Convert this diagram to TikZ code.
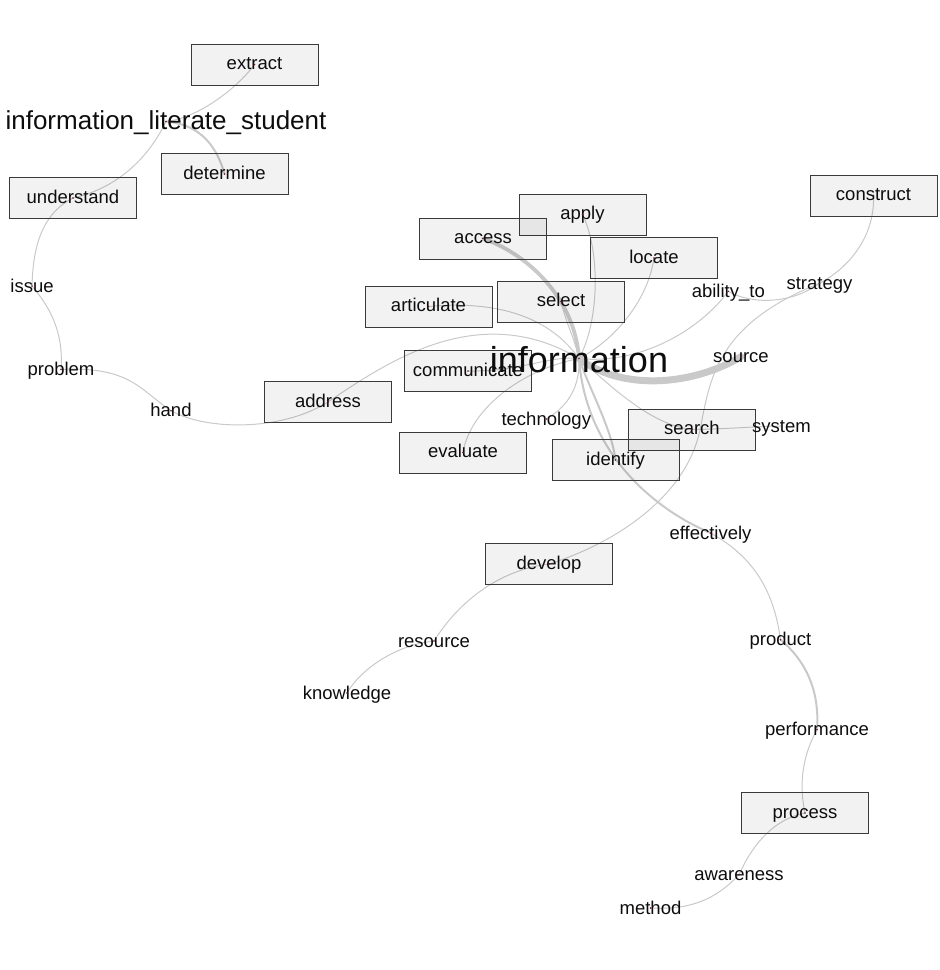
\documentclass[tikz,border=0pt]{standalone}
\usepackage{fontspec}
\setmainfont{Liberation Sans}
\pgfdeclarelayer{bg}
\pgfsetlayers{bg,main}
\definecolor{edgecol}{HTML}{C9C9C9}
\definecolor{boxline}{HTML}{3A3A3A}
\definecolor{dotcol}{HTML}{6B1A1A}
\begin{document}
\begin{tikzpicture}[x=1pt,y=-1pt,
  word/.style={font=\fontsize{18.5}{20}\selectfont, inner sep=0pt, text height=12pt, text depth=0pt, text=black!95},
  box/.style={word, draw=boxline, line width=1pt, fill=black, fill opacity=0.05, text opacity=1, draw opacity=1,
    minimum width=127pt, minimum height=41pt, text height=11pt, text depth=1pt},
  bigword/.style={inner sep=0pt, text=black!95, font=\fontsize{36}{40}\selectfont, text height=27pt, text depth=0pt},
  midword/.style={inner sep=0pt, text=black!95, font=\fontsize{26}{30}\selectfont, text height=15pt, text depth=0pt},
  thinedge/.style={draw=edgecol, line width=1pt, line cap=round},
  medge/.style={draw=edgecol, line width=2pt, line cap=round},
  thickedge/.style={draw=edgecol, line width=3.8pt, line cap=round},
  vthickedge/.style={draw=edgecol, line width=7pt, line cap=round},
  centerdot/.style={fill=dotcol, draw=none}
]
\useasboundingbox (0,0) rectangle (940,970);

% boxed nodes
\node[box] (extract) at (254.5,64.5) {extract};
\node[box] (determine) at (224.5,174) {determine};
\node[box] (understand) at (73,198) {understand};
\node[box] (address) at (328,402) {address};
\node[box] (communicate) at (468,371) {communicate};
\node[box] (evaluate) at (463,452.5) {evaluate};
\node[box] (apply) at (582.5,214.5) {apply};
\node[box] (access) at (483,238.5) {access};
\node[box] (locate) at (654,258) {locate};
\node[box] (select) at (561,301.5) {select};
\node[box] (articulate) at (428.5,306.5) {articulate};
\node[box] (search) at (692,429.5) {search};
\node[box] (identify) at (615.5,460) {identify};
\node[box] (develop) at (549,564) {develop};
\node[box] (process) at (805,813) {process};
\node[box] (construct) at (873.5,195.5) {construct};

% plain text nodes
\node[midword] (ils) at (166,121.5) {information\_literate\_student};
\node[bigword] (info) at (579,358.5) {information};
\node[word] (issue) at (32,286) {issue};
\node[word] (problem) at (61,369.5) {problem};
\node[word] (hand) at (171,410.7) {hand};
\node[word] (technology) at (546.3,419) {technology};
\node[word] (source) at (741,356.7) {source};
\node[word] (ability) at (728.3,291.3) {ability\_to};
\node[word] (strategy) at (819.5,283.3) {strategy};
\node[word] (system) at (781.5,426) {system};
\node[word] (effectively) at (710.5,533) {effectively};
\node[word] (resource) at (434,641) {resource};
\node[word] (knowledge) at (347,693) {knowledge};
\node[word] (product) at (780.5,639.7) {product};
\node[word] (performance) at (817,729.7) {performance};
\node[word] (awareness) at (739,874.7) {awareness};
\node[word] (method) at (650.5,908) {method};

\begin{pgfonlayer}{bg}
\draw[thinedge] (extract.center) .. controls (240,85) and (200,118) .. (ils.center);
\draw[medge] (ils.center) .. controls (195,124) and (215,140) .. (determine.center);
\draw[thinedge] (ils.center) .. controls (145,165) and (110,190) .. (understand.center);
\draw[thinedge] (understand.center) .. controls (40,215) and (33,250) .. (issue.center);
\draw[thinedge] (issue.center) .. controls (48,305) and (64,330) .. (problem.center);
\draw[thinedge] (problem.center) .. controls (130,366) and (140,390) .. (hand.center);
\draw[thinedge] (hand.center) .. controls (205,430) and (280,432) .. (address.center);
\draw[thinedge] (address.center) .. controls (390,360) and (480,300) .. (info.center);
\draw[thickedge] (access.center) .. controls (530,255) and (575,300) .. (info.center);
\draw[thinedge] (apply.center) .. controls (600,250) and (600,320) .. (info.center);
\draw[thinedge] (locate.center) .. controls (648,300) and (615,340) .. (info.center);
\draw[thinedge] (select.center) .. controls (565,320) and (575,340) .. (info.center);
\draw[thinedge] (articulate.center) .. controls (500,300) and (550,318) .. (info.center);
\draw[thinedge] (communicate.center) .. controls (520,372) and (550,355) .. (info.center);
\draw[thinedge] (evaluate.center) .. controls (470,410) and (520,370) .. (info.center);
\draw[thinedge] (technology.center) .. controls (570,405) and (580,385) .. (info.center);
\draw[thinedge] (info.center) .. controls (610,385) and (650,425) .. (search.center);
\draw[thinedge] (search.center) .. controls (730,429) and (760,426) .. (system.center);
\draw[medge] (info.center) .. controls (590,390) and (612,430) .. (identify.center);
\draw[medge] (info.center) .. controls (585,445) and (645,505) .. (effectively.center);
\draw[thinedge] (effectively.center) .. controls (760,560) and (775,600) .. (product.center);
\draw[medge] (product.center) .. controls (805,660) and (820,690) .. (performance.center);
\draw[thinedge] (performance.center) .. controls (800,760) and (800,790) .. (process.center);
\draw[thinedge] (process.center) .. controls (770,820) and (750,850) .. (awareness.center);
\draw[thinedge] (awareness.center) .. controls (715,900) and (690,910) .. (method.center);
\draw[thinedge] (develop.center) .. controls (500,570) and (460,600) .. (resource.center);
\draw[thinedge] (resource.center) .. controls (395,645) and (360,670) .. (knowledge.center);
\draw[thinedge] (develop.center) .. controls (610,545) and (685,500) .. (700,430) .. controls (710,380) and (715,325) .. (strategy.center);
\draw[vthickedge] (info.center) .. controls (620,390) and (690,387) .. (source.center);
\draw[thinedge] (info.center) .. controls (640,365) and (700,330) .. (ability.center);
\draw[thinedge] (ability.center) .. controls (750,304) and (790,305) .. (strategy.center);
\draw[thinedge] (strategy.center) .. controls (845,270) and (875,240) .. (construct.center);
\end{pgfonlayer}

% centre dots
\foreach \n in {extract,determine,understand,address,communicate,evaluate,apply,access,locate,select,articulate,search,identify,develop,process,construct,ils,info,issue,problem,hand,technology,source,ability,strategy,system,effectively,resource,knowledge,product,performance,awareness,method}
  \fill[centerdot] (\n.center) circle (0.8pt);
\end{tikzpicture}
\end{document}
